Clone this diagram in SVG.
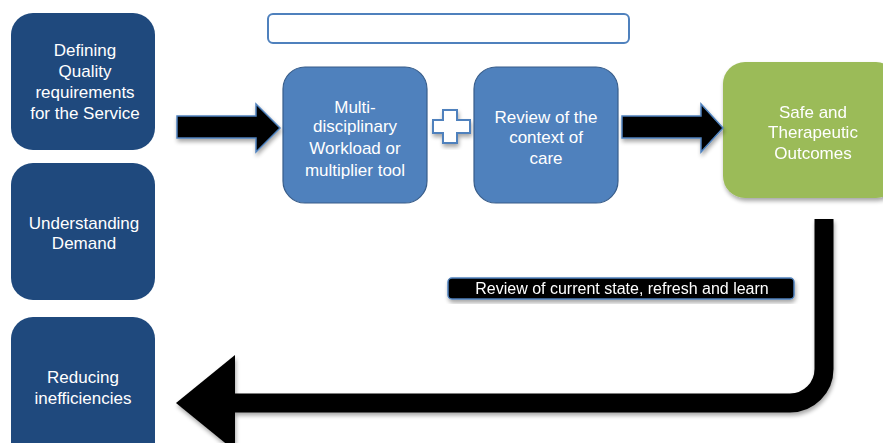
<svg xmlns="http://www.w3.org/2000/svg" width="883" height="443" viewBox="0 0 883 443">
<defs>
<filter id="sh" x="-20%" y="-20%" width="140%" height="140%">
<feGaussianBlur in="SourceAlpha" stdDeviation="2"/>
<feOffset dx="1" dy="3" result="b"/>
<feComponentTransfer><feFuncA type="linear" slope="0.35"/></feComponentTransfer>
<feMerge><feMergeNode/><feMergeNode in="SourceGraphic"/></feMerge>
</filter>
</defs>
<style>
.dark{fill:#1F497D;}
.mid{fill:#4F81BD;stroke:#385D8A;stroke-width:1.2;}
.green{fill:#9BBB59;}
text{font-family:"Liberation Sans",Arial,sans-serif;font-size:17px;fill:#ffffff;text-anchor:middle;}
.arr{fill:#000;stroke:#4F81BD;stroke-width:1.5;stroke-linejoin:miter;}
</style>
<rect width="883" height="443" fill="#ffffff"/>

<g id="n-defining">
<rect class="dark" x="11" y="13" width="144" height="137" rx="22"/>
<text x="85" y="56">Defining</text>
<text x="85" y="77">Quality</text>
<text x="85" y="98">requirements</text>
<text x="85" y="119">for the Service</text>
</g>

<g id="n-demand">
<rect class="dark" x="11" y="163" width="144" height="137" rx="22"/>
<text x="84" y="229">Understanding</text>
<text x="84" y="249">Demand</text>
</g>

<g id="n-reducing">
<rect class="dark" x="11" y="317" width="144" height="150" rx="22"/>
<text x="83" y="383">Reducing</text>
<text x="83" y="404">inefficiencies</text>
</g>

<g id="n-top">
<rect x="268" y="14" width="361" height="29" rx="5" fill="#ffffff" stroke="#4F81BD" stroke-width="2"/>
</g>

<g id="n-multi">
<rect class="mid" x="283" y="67" width="144" height="136" rx="22"/>
<text x="355" y="113">Multi-</text>
<text x="355" y="132">disciplinary</text>
<text x="355" y="154">Workload or</text>
<text x="355" y="176">multiplier tool</text>
</g>

<g id="n-plus" filter="url(#sh)">
<path d="M443 110 H457 V120 H470 V133 H457 V143 H443 V133 H433 V120 H443 Z" fill="#ffffff" stroke="#4F81BD" stroke-width="2"/>
</g>

<g id="n-review">
<rect class="mid" x="474" y="67" width="144" height="136" rx="22"/>
<text x="546" y="123">Review of the</text>
<text x="546" y="143">context of</text>
<text x="546" y="164">care</text>
</g>

<g id="n-outcomes" filter="url(#sh)">
<rect class="green" x="723" y="62" width="175" height="136" rx="22"/>
<text x="813" y="118">Safe and</text>
<text x="813" y="138">Therapeutic</text>
<text x="813" y="159">Outcomes</text>
</g>

<g id="n-label" filter="url(#sh)">
<rect x="448" y="278" width="346" height="21" rx="4" fill="#000000" stroke="#4F81BD" stroke-width="1.5"/>
<text x="622" y="294" style="font-size:16px">Review of current state, refresh and learn</text>
</g>

<g id="connectors">
<path class="arr" filter="url(#sh)" d="M177 116 H256 V104 L280 128 L256 152 V138 H177 Z"/>
<path class="arr" filter="url(#sh)" d="M622 116 H701 V104 L723 128 L701 152 V138 H622 Z"/>
<g filter="url(#sh)">
<path d="M824 219 V369 A34 34 0 0 1 790 403 H230" fill="none" stroke="#000" stroke-width="19"/>
<path d="M235 355 L176 403 L235 451 Z" fill="#000"/>
</g>
</g>
</svg>
